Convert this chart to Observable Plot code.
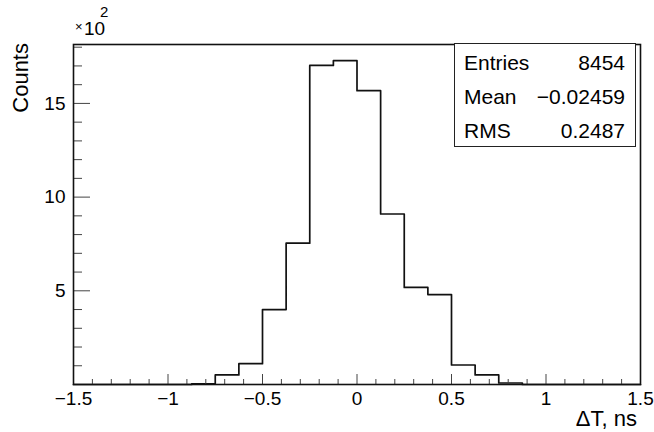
<!DOCTYPE html>
<html>
<head>
<meta charset="utf-8">
<script src="https://cdn.jsdelivr.net/npm/d3@7"></script>
<script src="https://cdn.jsdelivr.net/npm/@observablehq/plot@0.6"></script>
<style>
  body { margin: 0; background: #fff; }
  #wrap { position: relative; width: 654px; height: 432px; font-family: "Liberation Sans", Arial, sans-serif; color: #000; }
  #wrap svg { position: absolute; left: 0; top: 0; }
  .ytitle { position: absolute; left: 10px; top: 243px; width: 200px; text-align: right; font-size: 22px; line-height: 22px; transform: rotate(-90deg); transform-origin: left top; white-space: nowrap; }
  .xtitle { position: absolute; right: 17px; top: 408px; font-size: 22px; line-height: 22px; white-space: nowrap; }
  .expo { position: absolute; left: 75px; top: 0px; height: 40px; white-space: nowrap; }
  .expo span { position: absolute; line-height: 1; }
  .expo .times { font-size: 13px; left: 0px; top: 20px; }
  .expo .ten { font-size: 19px; left: 9px; top: 19px; }
  .expo .pow { font-size: 15px; left: 25px; top: 4px; }
  #stats { position: absolute; left: 454px; top: 43px; width: 182px; height: 104px; box-sizing: border-box; border: 1.5px solid #222; background: #fff; padding: 1.5px 10px 0 9px; font-size: 21px; line-height: 34px; }
  #stats .row { display: flex; justify-content: space-between; }
</style>
</head>
<body>
<div id="wrap"></div>
<script>
// Lower edges of the 24 bins (width 0.125 ns) and their counts
const binEdges = [-1.5, -1.375, -1.25, -1.125, -1.0, -0.875, -0.75, -0.625, -0.5, -0.375, -0.25, -0.125,
                  0.0, 0.125, 0.25, 0.375, 0.5, 0.625, 0.75, 0.875, 1.0, 1.125, 1.25, 1.375];
const binUpper = 1.5;
const binCounts = [0, 0, 0, 0, 0, 3, 51, 111, 400, 754, 1703, 1728,
                   1568, 910, 518, 480, 104, 51, 8, 0, 0, 0, 0, 0];

// Axis ticks
const xMajor = [-1.5, -1, -0.5, 0, 0.5, 1, 1.5];
const xMinor = [-1.4, -1.3, -1.2, -1.1, -0.9, -0.8, -0.7, -0.6, -0.4, -0.3, -0.2, -0.1,
                0.1, 0.2, 0.3, 0.4, 0.6, 0.7, 0.8, 0.9, 1.1, 1.2, 1.3, 1.4];
const yMajor = [500, 1000, 1500];
const yMinor = [100, 200, 300, 400, 600, 700, 800, 900, 1100, 1200, 1300, 1400, 1600, 1700, 1800];

// Statistics box
const statNames = ["Entries", "Mean", "RMS"];
const statValues = ["8454", "\u22120.02459", "0.2487"];

const xTitle = "\u0394T, ns";
const yTitle = "Counts";

// Outline of the histogram as a step line
const outline = binEdges.map((x, i) => ({x, y: binCounts[i]}));
outline.push({x: binUpper, y: 0});

const yMax = 1.05 * d3.max(binCounts);
const x0 = binEdges[0];

const plot = Plot.plot({
  width: 654,
  height: 432,
  marginTop: 44,
  marginRight: 14,
  marginBottom: 48,
  marginLeft: 73,
  style: {fontFamily: "'Liberation Sans', Arial, sans-serif", fontSize: "19px", color: "#000", background: "transparent"},
  x: {domain: [x0, binUpper]},
  y: {domain: [0, yMax]},
  marks: [
    Plot.line(outline, {x: "x", y: "y", curve: "step-after", stroke: "#111", strokeWidth: 1.7}),
    // inward ticks on the x axis
    Plot.ruleX(xMajor, {x: d => d, y1: d => 0, y2: d => 0, insetTop: -10, stroke: "#444", strokeWidth: 1}),
    Plot.ruleX(xMinor, {x: d => d, y1: d => 0, y2: d => 0, insetTop: -5, stroke: "#444", strokeWidth: 1}),
    // inward ticks on the y axis
    Plot.ruleY(yMajor, {y: d => d, x1: d => x0, x2: d => x0, insetRight: -17, stroke: "#444", strokeWidth: 1}),
    Plot.ruleY(yMinor, {y: d => d, x1: d => x0, x2: d => x0, insetRight: -9, stroke: "#444", strokeWidth: 1}),
    Plot.axisX({ticks: xMajor, tickSize: 0, tickPadding: 7, tickFormat: d3.format("~g"), label: null, fontSize: 19}),
    Plot.axisY({ticks: yMajor, tickSize: 0, tickPadding: 8, tickFormat: d => d3.format("~g")(d / 100), label: null, fontSize: 19}),
    Plot.frame({stroke: "#111", strokeWidth: 1.6})
  ]
});

const wrap = document.getElementById("wrap");
wrap.appendChild(plot);

const yt = document.createElement("div");
yt.className = "ytitle";
yt.textContent = yTitle;
wrap.appendChild(yt);

const xt = document.createElement("div");
xt.className = "xtitle";
xt.textContent = xTitle;
wrap.appendChild(xt);

const ex = document.createElement("div");
ex.className = "expo";
ex.innerHTML = '<span class="times">\u00d7</span><span class="ten">10</span><span class="pow">2</span>';
wrap.appendChild(ex);

const stats = document.createElement("div");
stats.id = "stats";
statNames.forEach((name, i) => {
  const row = document.createElement("div");
  row.className = "row";
  const a = document.createElement("span");
  a.textContent = name;
  const b = document.createElement("span");
  b.textContent = statValues[i];
  row.appendChild(a);
  row.appendChild(b);
  stats.appendChild(row);
});
wrap.appendChild(stats);
</script>
</body>
</html>
